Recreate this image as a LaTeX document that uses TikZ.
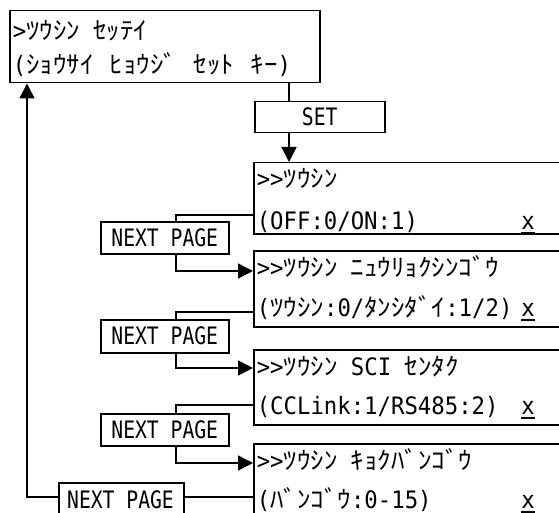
\documentclass[tikz,border=0pt]{standalone}
\usepackage{fontspec}
\setmainfont[FakeStretch=0.93]{DejaVu Sans Mono}
\newfontfamily\narrowfont[FakeStretch=0.82]{DejaVu Sans Mono}
\newfontfamily\kanafont[FakeStretch=1.1]{Noto Sans CJK JP}
\newcommand\kanatxt[1]{{\kanafont\fontsize{24.5}{24.5}\selectfont #1}}
\newcommand\dblgt{>\kern0pt>}
\usetikzlibrary{arrows.meta}
\begin{document}
\begin{tikzpicture}[x=1pt,y=-1pt,line width=1.5pt,
  box/.style={draw,rectangle,anchor=north west,inner sep=0pt,line width=1.5pt,
    font=\narrowfont\fontsize{24}{24}\selectfont},
  txt/.style={anchor=base west,inner sep=0pt,font=\fontsize{24}{24}\selectfont},
  xmark/.style={anchor=base,inner sep=0pt,font=\fontsize{24}{24}\selectfont},
  uline/.style={line width=2pt},
  arr/.style={-{Triangle[length=15pt,width=15pt]}}]
\useasboundingbox (0,0) rectangle (559,513);
\clip (0,0) rectangle (559,513);
% boxes
\node[box,minimum width=310pt,minimum height=72pt] (t) at (9,10) {};
\node[box,minimum width=130pt,minimum height=31pt] (s) at (254,101) {SET};
\node[box,minimum width=330pt,minimum height=71pt] (b1) at (253,162) {};
\node[box,minimum width=330pt,minimum height=76pt] (b2) at (253,250) {};
\node[box,minimum width=330pt,minimum height=75pt] (b3) at (253,349) {};
\node[box,minimum width=330pt,minimum height=80pt] (b4) at (253,443) {};
\node[box,minimum width=128pt,minimum height=32pt] (n1) at (100,221) {NEXT PAGE};
\node[box,minimum width=128pt,minimum height=33pt] (n2) at (100,319) {NEXT PAGE};
\node[box,minimum width=128pt,minimum height=32pt] (n3) at (100,413) {NEXT PAGE};
\node[box,minimum width=125pt,minimum height=40pt] (n4) at (58,482) {};
\node[txt,anchor=base,font=\narrowfont\fontsize{24}{24}\selectfont] (n4t) at (120.5,508) {NEXT PAGE};
% texts
\node[txt] (t1) at (12,40) {>\kanatxt{ﾂｳｼﾝ} \kanatxt{ｾｯﾃｲ}};
\node[txt] (t2) at (12,74) {(\kanatxt{ｼｮｳｻｲ}\hspace{3pt} \kanatxt{ﾋｮｳｼﾞ}\hspace{3pt} \kanatxt{ｾｯﾄ}\hspace{3pt} \kanatxt{ｷｰ})};
\node[txt] (l11) at (256,188) {\dblgt\kanatxt{ﾂｳｼﾝ}};
\node[txt] (l12) at (256,229) {(OFF:0/ON:1)};
\node[xmark] (x1) at (528,229) {x};
\node[txt] (l21) at (256,276) {\dblgt\kanatxt{ﾂｳｼﾝ} \kanatxt{ﾆｭｳﾘｮｸｼﾝｺﾞｳ}};
\node[txt] (l22) at (256,316) {(\kanatxt{ﾂｳｼﾝ}:0/\kanatxt{ﾀﾝｼﾀﾞｲ}:1/2)};
\node[xmark] (x2) at (528,316) {x};
\node[txt] (l31) at (256,375) {\dblgt\kanatxt{ﾂｳｼﾝ} SCI \kanatxt{ｾﾝﾀｸ}};
\node[txt] (l32) at (256,414) {(CCLink:1/RS485:2)};
\node[xmark] (x3) at (528,414) {x};
\node[txt] (l41) at (256,469) {\dblgt\kanatxt{ﾂｳｼﾝ} \kanatxt{ｷｮｸﾊﾞﾝｺﾞｳ}};
\node[txt] (l42) at (256,508) {(\kanatxt{ﾊﾞﾝｺﾞｳ}:0-15)};
\node[xmark] (x4) at (528,508) {x};
% underlines
\foreach \k in {x1,x2,x3,x4}{\draw[uline] (\k.base) ++(-7,4) -- ++(14,0);}
% connectors
\draw (t.south -| 289,0) -- (s.north -| 289,0);
\draw[arr] (s.south -| 289,0) -- (b1.north -| 289,0);
\draw (b1.west |- 0,215) -| (n1.north -| 176,0);
\draw[arr] (n1.south -| 176,0) |- (b2.west |- 0,271);
\draw (b2.west |- 0,312) -| (n2.north -| 176,0);
\draw[arr] (n2.south -| 176,0) |- (b3.west |- 0,368);
\draw (b3.west |- 0,405) -| (n3.north -| 176,0);
\draw[arr] (n3.south -| 176,0) |- (b4.west |- 0,463);
\draw (b4.west |- 0,497) -- (n4.east |- 0,497);
\draw[arr] (n4.west |- 0,497) -| (t.south -| 27,0);
\end{tikzpicture}
\end{document}
